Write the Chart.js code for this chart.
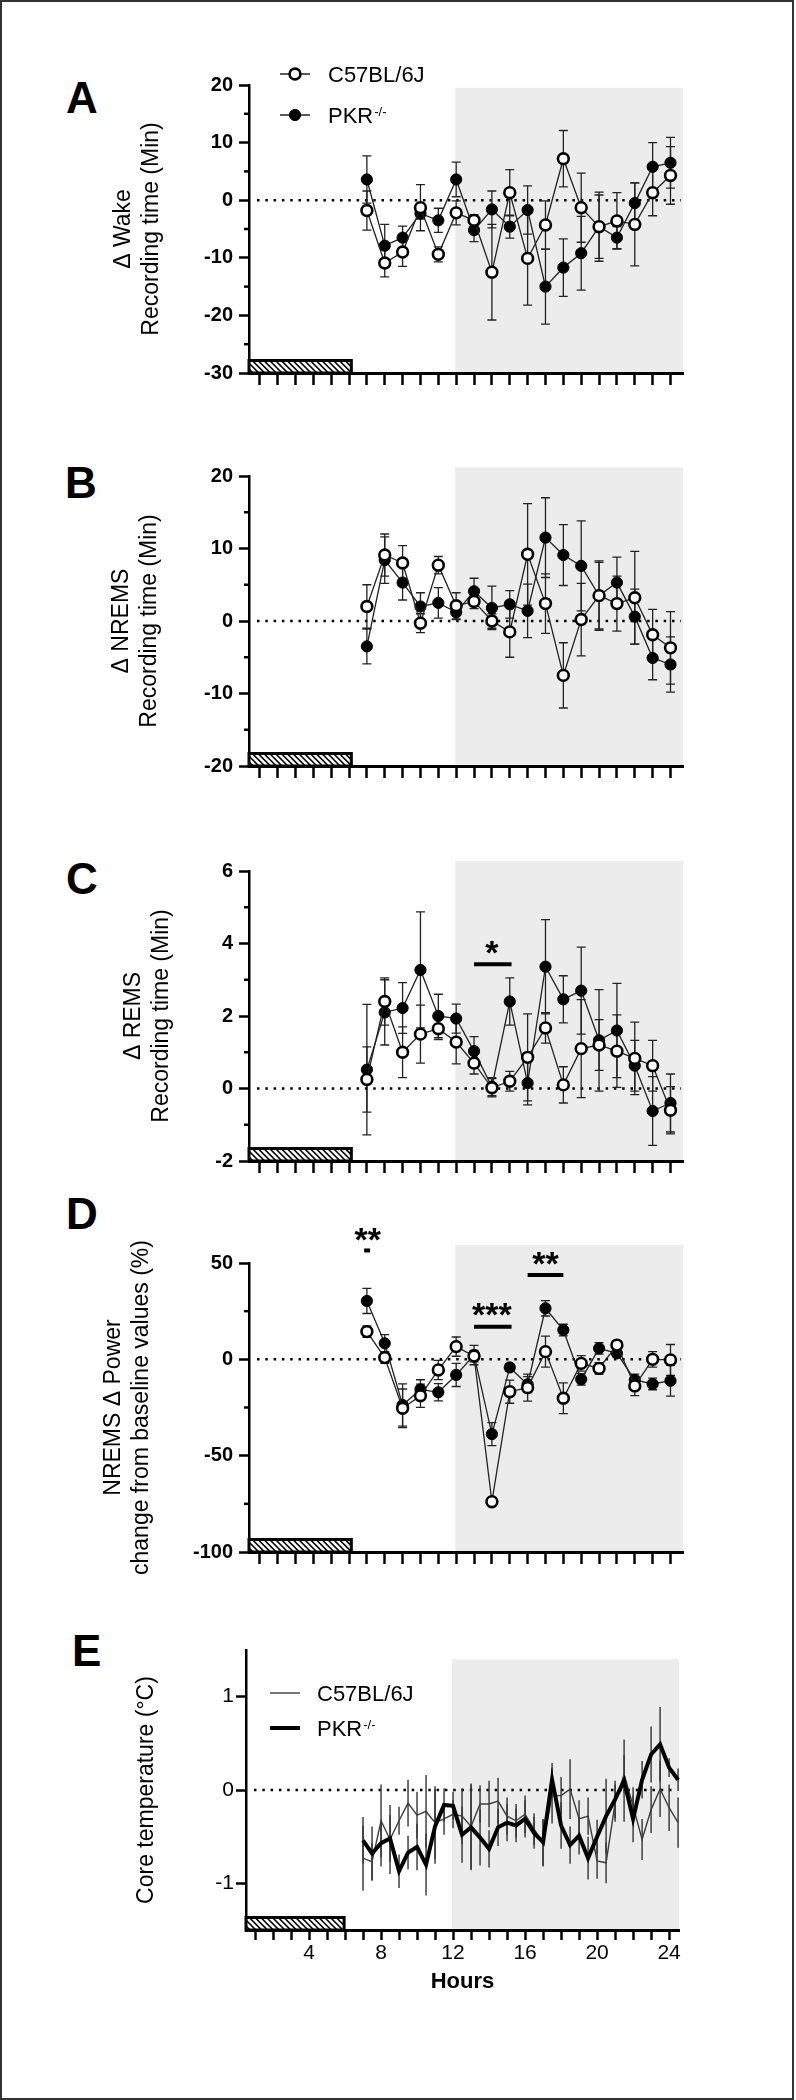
<!DOCTYPE html>
<html>
<head>
<meta charset="utf-8">
<script src="https://cdn.jsdelivr.net/npm/chart.js@4.4.0/dist/chart.umd.min.js"></script>
<style>
  body { margin: 0; background: #fff; }
  #page { position: relative; width: 796px; height: 2100px; overflow: hidden; background: #fff; }
  #frame { position: absolute; left: 0; top: 0; width: 790px; height: 2096px; border: 2px solid #333; }
  canvas { position: absolute; left: 0; }
  .tag { position: absolute; font: bold 44px 'Liberation Sans', Arial, sans-serif; line-height: 44px; color: #000; }
</style>
</head>
<body>
<div id="page">
  <div id="frame"></div>
  <div class="tag" style="left:66px;top:76px">A</div>
  <div class="tag" style="left:65px;top:461px">B</div>
  <div class="tag" style="left:66px;top:857px">C</div>
  <div class="tag" style="left:66px;top:1192px">D</div>
  <div class="tag" style="left:72px;top:1629px">E</div>
  <canvas id="cA" width="796" height="420" style="top:0px"></canvas>
  <canvas id="cB" width="796" height="420" style="top:420px"></canvas>
  <canvas id="cC" width="796" height="350" style="top:840px"></canvas>
  <canvas id="cD" width="796" height="410" style="top:1190px"></canvas>
  <canvas id="cE" width="796" height="500" style="top:1600px"></canvas>
</div>
<script>
// hours of the recording (light phase 0-12, dark phase 12-24)
const hours = [7, 8, 9, 10, 11, 12, 13, 14, 15, 16, 17, 18, 19, 20, 21, 22, 23, 24];
const hourTicks = [1, 2, 3, 4, 5, 6, 7, 8, 9, 10, 11, 12, 13, 14, 15, 16, 17, 18, 19, 20, 21, 22, 23, 24];
const hourLabels = [4, 8, 12, 16, 20, 24];
const seriesNames = ['C57BL/6J', 'PKR'];

// A - wake
const wakeWT = [-1.8, -10.9, -9.0, -1.3, -9.4, -2.2, -3.5, -12.5, 1.3, -10.1, -4.3, 7.2, -1.3, -4.6, -3.6, -4.2, 1.3, 4.3];
const wakeWTErr = [3.4, 2.4, 2.5, 4.0, 1.3, 2.1, 1.0, 8.3, 4.0, 8.1, 4.2, 4.9, 6.0, 6.0, 4.9, 7.2, 4.0, 5.0];
const wakeKO = [3.6, -7.9, -6.5, -2.3, -3.5, 3.6, -5.2, -1.6, -4.6, -1.7, -15.0, -11.7, -9.2, -4.6, -6.5, -0.5, 5.8, 6.5];
const wakeKOErr = [4.1, 3.7, 2.0, 1.0, 2.1, 3.0, 2.0, 3.2, 2.0, 4.2, 6.5, 5.0, 6.4, 5.5, 1.9, 3.5, 4.2, 4.4];

// B - NREMS
const nremWT = [2.0, 9.1, 8.0, -0.3, 7.7, 2.1, 2.7, 0.0, -1.5, 9.2, 2.4, -7.5, 0.2, 3.5, 2.4, 3.2, -1.9, -3.7];
const nremWTErr = [3.0, 2.9, 2.4, 1.3, 1.2, 1.8, 1.0, 1.0, 3.5, 7.0, 4.1, 4.5, 5.0, 4.8, 3.8, 6.4, 3.5, 5.0];
const nremKO = [-3.5, 8.4, 5.3, 2.0, 2.5, 1.2, 4.1, 1.8, 2.3, 1.4, 11.5, 9.1, 7.6, 3.5, 5.3, 0.6, -5.1, -6.0];
const nremKOErr = [2.4, 3.2, 2.4, 1.9, 2.1, 1.0, 1.8, 3.0, 1.9, 3.7, 5.5, 4.2, 6.2, 4.6, 3.5, 3.8, 3.0, 3.8];

// C - REMS
const remWT = [0.25, 2.4, 1.0, 1.5, 1.65, 1.28, 0.7, 0.02, 0.2, 0.86, 1.67, 0.1, 1.1, 1.2, 1.03, 0.83, 0.63, -0.6];
const remWTErr = [0.9, 0.65, 0.7, 0.8, 0.3, 0.6, 0.3, 0.25, 0.27, 1.2, 0.42, 0.5, 1.35, 0.7, 1.0, 1.0, 0.7, 0.65];
const remKO = [0.52, 2.1, 2.22, 3.27, 2.0, 1.93, 1.03, 0.05, 2.4, 0.15, 3.36, 2.46, 2.7, 1.33, 1.6, 0.63, -0.62, -0.4];
const remKOErr = [1.8, 0.9, 0.7, 1.6, 0.6, 0.4, 0.4, 0.25, 0.65, 0.6, 1.3, 0.65, 1.2, 1.4, 1.3, 0.7, 0.95, 0.8];

// D - NREMS delta power
const powWT = [14.4, 0.9, -25.4, -18.9, -5.5, 6.6, 1.7, -73.9, -16.8, -14.7, 4.0, -20.2, -2.1, -4.7, 7.4, -13.8, 0.0, -0.3];
const powWTErr = [3, 3, 10, 6, 5, 5, 3, 2, 6, 7, 8, 8, 4, 3, 2, 5, 4, 8];
const powKO = [30.3, 8.3, -23.7, -15.6, -17.1, -8.1, 2.2, -38.8, -4.2, -13.0, 26.5, 15.2, -10.4, 5.7, 3.1, -10.7, -12.8, -11.1];
const powKOErr = [6.5, 4.5, 11, 5, 4.5, 6, 5, 6, 2, 4, 4, 3, 3, 3, 2, 3, 3, 8];

// E - core temperature (half-hour bins)
const tempHours = [7, 7.5, 8, 8.5, 9, 9.5, 10, 10.5, 11, 11.5, 12, 12.5, 13, 13.5, 14, 14.5, 15, 15.5,
                   16, 16.5, 17, 17.5, 18, 18.5, 19, 19.5, 20, 20.5, 21, 21.5, 22, 22.5, 23, 23.5, 24, 24.5];
const tempWT = [-0.73, -0.77, -0.33, -0.53, -0.33, -0.14, -0.27, -0.23, -0.35, -0.31, -0.26, -0.28, -0.39, -0.15, -0.15, -0.12, -0.28, -0.33,
                -0.26, -0.42, -0.57, -0.06, -0.06, 0.01, -0.31, -0.28, -0.76, -0.78, -0.14, 0.17, -0.17, -0.53, -0.21, 0.01, -0.19, -0.35];
const tempWTErr = [0.35, 0.2, 0.39, 0.37, 0.15, 0.25, 0.25, 0.39, 0.39, 0.17, 0.15, 0.3, 0.46, 0.2, 0.25, 0.25, 0.2, 0.18,
                   0.2, 0.17, 0.25, 0.3, 0.2, 0.32, 0.2, 0.2, 0.19, 0.22, 0.2, 0.2, 0.2, 0.22, 0.25, 0.3, 0.25, 0.27];
const tempKO = [-0.54, -0.68, -0.57, -0.52, -0.87, -0.67, -0.61, -0.80, -0.39, -0.16, -0.17, -0.48, -0.40, -0.51, -0.63, -0.40, -0.35, -0.38,
                -0.31, -0.46, -0.56, 0.11, -0.38, -0.59, -0.49, -0.73, -0.50, -0.28, -0.10, 0.10, -0.31, 0.11, 0.38, 0.49, 0.24, 0.11];
const tempKOErr = [0.25, 0.29, 0.25, 0.25, 0.18, 0.18, 0.25, 0.33, 0.4, 0.18, 0.15, 0.3, 0.46, 0.3, 0.2, 0.2, 0.2, 0.18,
                   0.2, 0.17, 0.25, 0.18, 0.25, 0.2, 0.2, 0.23, 0.18, 0.4, 0.2, 0.44, 0.25, 0.2, 0.3, 0.4, 0.1, 0.12];

const FONT = "'Liberation Sans', Arial, sans-serif";

// shading, zero line, error bars, hatched bar, minor ticks, stars, legend
const figPlugin = {
  id: 'fig',
  beforeDraw(chart, args, o) {
    const { ctx, chartArea: ca, scales: { x, y } } = chart;
    const sx = x.getPixelForValue(o.shadeFrom);
    const sy = y.getPixelForValue(o.shadeTop);
    ctx.save();
    ctx.fillStyle = '#ececec';
    ctx.fillRect(sx, sy, ca.right - sx, ca.bottom - sy);
    ctx.restore();
  },
  beforeDatasetsDraw(chart, args, o) {
    const { ctx, chartArea: ca, scales: { x, y } } = chart;
    ctx.save();
    const y0 = y.getPixelForValue(0);
    ctx.strokeStyle = '#000';
    ctx.lineWidth = 2.5;
    ctx.setLineDash([2.5, 5.8]);
    ctx.beginPath();
    ctx.moveTo(ca.left + 8, y0);
    ctx.lineTo(ca.right - 2, y0);
    ctx.stroke();
    ctx.setLineDash([]);
    chart.data.datasets.forEach((ds, i) => {
      if (!ds.errors) return;
      const meta = chart.getDatasetMeta(i);
      ctx.strokeStyle = o.errColor || '#222';
      ctx.lineWidth = o.errWidth || 1.3;
      meta.data.forEach((pt, j) => {
        const v = ds.data[j].y, e = ds.errors[j];
        const y1 = y.getPixelForValue(v + e), y2 = y.getPixelForValue(v - e);
        ctx.beginPath();
        ctx.moveTo(pt.x, y1);
        ctx.lineTo(pt.x, y2);
        if (o.cap) {
          ctx.moveTo(pt.x - o.cap, y1); ctx.lineTo(pt.x + o.cap, y1);
          ctx.moveTo(pt.x - o.cap, y2); ctx.lineTo(pt.x + o.cap, y2);
        }
        ctx.stroke();
      });
    });
    ctx.restore();
  },
  afterDraw(chart, args, o) {
    const { ctx, chartArea: ca, scales: { x, y } } = chart;
    ctx.save();
    ctx.strokeStyle = '#000';
    ctx.fillStyle = '#000';
    // minor ticks on y axis
    ctx.lineWidth = 2.5;
    (o.minor || []).forEach(v => {
      const py = y.getPixelForValue(v);
      ctx.beginPath();
      ctx.moveTo(ca.left - 5, py);
      ctx.lineTo(ca.left, py);
      ctx.stroke();
    });
    // hatched bar
    const hx1 = ca.left, hx2 = x.getPixelForValue(o.hatchTo);
    const hy1 = ca.bottom - 12.5, hy2 = ca.bottom;
    ctx.save();
    ctx.beginPath();
    ctx.rect(hx1, hy1, hx2 - hx1, hy2 - hy1);
    ctx.fillStyle = '#fff';
    ctx.fill();
    ctx.clip();
    ctx.lineWidth = 1.6;
    ctx.beginPath();
    for (let s = hx1 - 20; s < hx2 + 20; s += 5.8) {
      ctx.moveTo(s, hy1);
      ctx.lineTo(s + 12.5, hy2);
    }
    ctx.stroke();
    ctx.restore();
    ctx.lineWidth = 3;
    ctx.strokeRect(hx1, hy1, hx2 - hx1, hy2 - hy1);
    // significance marks
    (o.notes || []).forEach(n => {
      ctx.font = `bold 34px ${FONT}`;
      ctx.textAlign = 'center';
      ctx.textBaseline = 'alphabetic';
      ctx.fillText(n.text, x.getPixelForValue(n.x), y.getPixelForValue(n.y) + 19);
      ctx.lineWidth = 4;
      ctx.beginPath();
      ctx.moveTo(x.getPixelForValue(n.from), y.getPixelForValue(n.barY));
      ctx.lineTo(x.getPixelForValue(n.to), y.getPixelForValue(n.barY));
      ctx.stroke();
    });
    // legend
    if (o.legend) {
      const L = o.legend;
      chart.data.datasets.forEach((ds, k) => {
        const ly = L.y[k];
        ctx.strokeStyle = ds.borderColor;
        ctx.lineWidth = L.lineWidth[k];
        ctx.beginPath();
        ctx.moveTo(L.x1, ly);
        ctx.lineTo(L.x2, ly);
        ctx.stroke();
        if (L.markers) {
          ctx.beginPath();
          ctx.arc((L.x1 + L.x2) / 2, ly, ds.pointRadius, 0, Math.PI * 2);
          ctx.fillStyle = ds.pointBackgroundColor;
          ctx.fill();
          ctx.lineWidth = ds.pointBorderWidth;
          ctx.strokeStyle = ds.pointBorderColor;
          ctx.stroke();
        }
        ctx.fillStyle = '#000';
        ctx.font = `22px ${FONT}`;
        ctx.textAlign = 'left';
        ctx.textBaseline = 'alphabetic';
        ctx.fillText(ds.label, L.tx, ly + 8);
        if (ds.sup) {
          const w = ctx.measureText(ds.label).width;
          ctx.font = `13px ${FONT}`;
          ctx.fillText(ds.sup, L.tx + w + 1, ly + 1);
        }
      });
    }
    ctx.restore();
  }
};
Chart.register(figPlugin);

function pts(xs, ys) {
  return xs.map((h, i) => ({ x: h, y: ys[i] }));
}

function circleSets(wt, wtErr, ko, koErr) {
  return [
    { label: seriesNames[0], data: pts(hours, wt), errors: wtErr,
      borderColor: '#222', borderWidth: 1.3, pointRadius: 5.4, pointBorderWidth: 2.6,
      pointBackgroundColor: '#fff', pointBorderColor: '#000', clip: false },
    { label: seriesNames[1], sup: '-/-', data: pts(hours, ko), errors: koErr,
      borderColor: '#222', borderWidth: 1.3, pointRadius: 5.6, pointBorderWidth: 1,
      pointBackgroundColor: '#000', pointBorderColor: '#000', clip: false }
  ];
}

function makeChart(id, c) {
  return new Chart(document.getElementById(id), {
    type: 'line',
    data: { datasets: c.datasets },
    options: {
      responsive: false,
      animation: false,
      events: [],
      layout: { padding: c.pad },
      plugins: { legend: { display: false }, tooltip: { enabled: false }, fig: c.fig },
      scales: {
        x: {
          type: 'linear', min: c.xMin, max: c.xMax,
          afterBuildTicks: s => { s.ticks = hourTicks.map(v => ({ value: v })); },
          afterFit: s => { s.height = c.xHeight; },
          grid: { drawOnChartArea: false, drawTicks: true, tickLength: c.xTick, tickWidth: 2.5, tickColor: '#000' },
          border: { color: '#000', width: 3 },
          ticks: {
            autoSkip: false, maxRotation: 0, padding: 1, color: '#000',
            font: { family: FONT, size: 21 },
            callback: v => (c.xLabels && c.xLabels.includes(v)) ? String(v) : ''
          },
          title: c.xTitle || { display: false }
        },
        y: {
          min: c.yMin, max: c.yMax,
          afterBuildTicks: s => { s.ticks = c.yMajor.map(v => ({ value: v })); },
          afterFit: s => { s.width = c.yWidth; },
          grid: { drawOnChartArea: false, drawTicks: true, tickLength: 10, tickWidth: 2.5, tickColor: '#000' },
          border: { color: '#000', width: 2.5 },
          ticks: { autoSkip: false, padding: c.yPad, color: '#000', font: c.yFont, callback: v => String(v) },
          title: {
            display: true, text: c.yTitle, color: '#000',
            font: { family: FONT, size: 23, lineHeight: 1.22 },
            padding: { top: c.yTitlePad, bottom: 0 }
          }
        }
      }
    }
  });
}

const boldTicks = { family: FONT, size: 20, weight: 'bold' };
const circleFig = { shadeFrom: 11.95, hatchTo: 6.13, cap: 4.5, errWidth: 1.3, errColor: '#222' };

makeChart('cA', {
  datasets: circleSets(wakeWT, wakeWTErr, wakeKO, wakeKOErr),
  pad: { top: 85, bottom: 0, left: 100, right: 113 },
  xMin: 0.4, xMax: 24.7, xHeight: 47, xTick: 12,
  yMin: -30, yMax: 20, yMajor: [20, 10, 0, -10, -20, -30], yWidth: 149, yPad: 6, yFont: boldTicks,
  yTitle: ['\u0394 Wake', 'Recording time (Min)'], yTitlePad: 10,
  fig: Object.assign({}, circleFig, {
    shadeTop: 19.5, minor: [15, 5, -5, -15, -25],
    legend: { x1: 280, x2: 310, tx: 328, y: [74, 115], lineWidth: [1.5, 1.5], markers: true }
  })
});

makeChart('cB', {
  datasets: circleSets(nremWT, nremWTErr, nremKO, nremKOErr),
  pad: { top: 56, bottom: 0, left: 100, right: 113 },
  xMin: 0.4, xMax: 24.7, xHeight: 74, xTick: 12,
  yMin: -20, yMax: 20, yMajor: [20, 10, 0, -10, -20], yWidth: 149, yPad: 6, yFont: boldTicks,
  yTitle: ['\u0394 NREMS', 'Recording time (Min)'], yTitlePad: 8,
  fig: Object.assign({}, circleFig, { shadeTop: 21.2, minor: [15, 5, -5, -15] })
});

makeChart('cC', {
  datasets: circleSets(remWT, remWTErr, remKO, remKOErr),
  pad: { top: 31, bottom: 0, left: 100, right: 113 },
  xMin: 0.4, xMax: 24.7, xHeight: 29, xTick: 12,
  yMin: -2, yMax: 6, yMajor: [6, 4, 2, 0, -2], yWidth: 149, yPad: 6, yFont: boldTicks,
  yTitle: ['\u0394 REMS', 'Recording time (Min)'], yTitlePad: 20,
  fig: Object.assign({}, circleFig, {
    shadeTop: 6.28, minor: [5, 3, 1, -1],
    notes: [{ text: '*', x: 14, y: 3.96, from: 13, to: 15.1, barY: 3.43 }]
  })
});

makeChart('cD', {
  datasets: circleSets(powWT, powWTErr, powKO, powKOErr),
  pad: { top: 73, bottom: 0, left: 100, right: 113 },
  xMin: 0.4, xMax: 24.7, xHeight: 48, xTick: 12,
  yMin: -100, yMax: 50, yMajor: [50, 0, -50, -100], yWidth: 149, yPad: 6, yFont: boldTicks,
  yTitle: ['NREMS \u0394 Power', 'change from baseline values (%)'], yTitlePad: 0,
  fig: Object.assign({}, circleFig, {
    shadeTop: 59.3, minor: [25, -25, -75],
    notes: [
      { text: '**', x: 7.05, y: 66, from: 6.85, to: 7.18, barY: 56.5 },
      { text: '***', x: 14, y: 27.2, from: 13, to: 15.1, barY: 16.9 },
      { text: '**', x: 17, y: 53.6, from: 16, to: 18, barY: 43.8 }
    ]
  })
});

makeChart('cE', {
  datasets: [
    { label: seriesNames[0], data: pts(tempHours, tempWT), errors: tempWTErr,
      borderColor: '#3c3c3c', borderWidth: 1.4, pointRadius: 0, clip: false },
    { label: seriesNames[1], sup: '-/-', data: pts(tempHours, tempKO), errors: tempKOErr,
      borderColor: '#000', borderWidth: 4, pointRadius: 0, clip: false, order: -1 }
  ],
  pad: { top: 50, bottom: 100, left: 95, right: 117 },
  xMin: 0.5, xMax: 24.55, xHeight: 70, xTick: 10, xLabels: hourLabels,
  xTitle: { display: true, text: 'Hours', color: '#000',
            font: { family: FONT, size: 22, weight: 'bold', lineHeight: 1.2 }, padding: { top: 0, bottom: 5 } },
  yMin: -1.5, yMax: 1.5, yMajor: [1, 0, -1], yWidth: 151, yPad: 2, yFont: { family: FONT, size: 21 },
  yTitle: 'Core temperature (\u00B0C)', yTitlePad: 38,
  fig: {
    shadeFrom: 11.95, shadeTop: 1.4, hatchTo: 5.95, cap: 0, errWidth: 1.4, errColor: '#333',
    legend: { x1: 270, x2: 300, tx: 317, y: [93, 128], lineWidth: [1.4, 4], markers: false }
  }
});
</script>
</body>
</html>
